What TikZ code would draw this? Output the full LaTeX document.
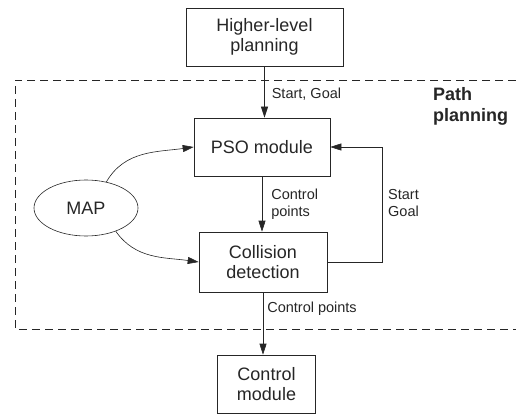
\documentclass[tikz,border=0pt]{standalone}
\usepackage{fontspec}
\setmainfont{Liberation Sans}
\usetikzlibrary{shapes.geometric,arrows.meta}
\tikzset{
        x=1pt, y=-1pt,
        module/.style={draw=black!85, line width=0.6pt, align=center, inner sep=2pt, text=black!85, font=\fontsize{18}{20}\selectfont},
        mapnode/.style={ellipse, draw=black!85, line width=0.6pt, inner sep=0pt, minimum width=104pt, minimum height=56pt, text=black!85, font=\fontsize{18}{20}\selectfont},
        flow/.style={draw=black!85, line width=0.6pt, -{Triangle[length=11pt,width=7pt]}},
        info/.style={align=left, inner sep=2pt, text=black!85, font=\fontsize{14.5}{17}\selectfont},
        region/.style={draw=black!85, line width=0.9pt, dash pattern=on 8pt off 5pt}
          }
\begin{document}
\begin{tikzpicture}
  \useasboundingbox (0,0) rectangle (516,414);
  % path planning block
  \draw[region] (516,80) -- (15,80) -- (15,329) -- (516,329);
  \node[font=\bfseries\fontsize{18}{21}\selectfont, text=black!85, align=left, inner sep=0pt, anchor=north west] (title) at (433,87) {Path\\planning};
  % modules
  \node[module, minimum width=157pt, minimum height=58pt] (higher) at (264.5,37) {Higher-level\\planning};
  \node[module, minimum width=136pt, minimum height=58pt] (pso) at (262,147) {PSO module};
  \node[module, minimum width=128pt, minimum height=60pt] (collision) at (263,262) {Collision\\detection};
  \node[module, minimum width=98pt, minimum height=58pt] (control) at (266.5,384) {Control\\module};
  \node[mapnode] (map) at (86,208) {MAP};
  % connections
  \draw[flow] (higher.south) -- (higher.south |- pso.north)
    node[info, pos=0.55, anchor=west, xshift=5pt] (sg) {Start, Goal};
  \draw[flow] (pso.south) -- (pso.south |- collision.north)
    node[info, midway, anchor=west, xshift=7pt] (cp) {Control\\points};
  \draw[flow] (collision.south) -- (collision.south |- control.north)
    node[info, pos=0.27, anchor=west, xshift=2pt] (cpo) {Control points};
  \coordinate (back) at (382,262);
  \draw[flow] (collision.east) -- (back) |- (pso.east);
  \node[info, anchor=west] (sgb) at (386,203) {Start\\Goal};
  \draw[flow] (map.52) to[out=60, in=188] (pso.west);
  \draw[flow] (map.-38) to[out=-55, in=172] (collision.west);
\end{tikzpicture}
\end{document}
